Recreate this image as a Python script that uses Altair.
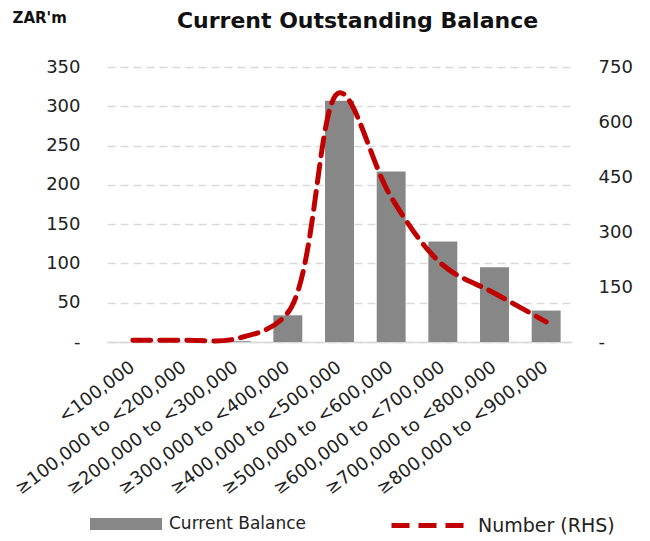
import altair as alt
import pandas as pd

categories = ["<100,000", "≥100,000 to <200,000", "≥200,000 to <300,000",
              "≥300,000 to <400,000", "≥400,000 to <500,000", "≥500,000 to <600,000",
              "≥600,000 to <700,000", "≥700,000 to <800,000", "≥800,000 to <900,000"]
balance = [0, 0, 1, 34, 307, 217, 128, 95, 40]
number = [5, 5, 9, 80, 680, 395, 210, 133, 55]
left_ticks = [0, 50, 100, 150, 200, 250, 300, 350]
right_ticks = [0, 150, 300, 450, 600, 750]

df = pd.DataFrame({
    "cat": categories,
    "balance": balance,
    "number": number,
    "s1": ["Current Balance"] * len(categories),
    "s2": ["Number (RHS)"] * len(categories),
})

FONT = "DejaVu Sans"

x = alt.X("cat:N", sort=categories, title=None,
          scale=alt.Scale(paddingInner=0.44, paddingOuter=0.22),
          axis=alt.Axis(labelAngle=-37, labelAlign="right", labelBaseline="middle",
                        labelPadding=23, labelFontSize=18, labelColor="#222222",
                        labelFont=FONT, ticks=False, domainColor="#d9d9d9",
                        domainWidth=1.5, grid=False, labelLimit=400))

bars = alt.Chart(df).mark_bar(color="#878787").encode(
    x=x,
    y=alt.Y("balance:Q", scale=alt.Scale(domain=[0, 350]),
            axis=alt.Axis(values=left_ticks, title="ZAR'm", titleAngle=0,
                          titleX=-95, titleY=-42, titleAlign="left",
                          titleFontSize=15, titleFontWeight="bold", titleFont=FONT,
                          titleColor="#111111",
                          labelExpr="datum.value == 0 ? '-' : datum.label",
                          labelFontSize=18, labelFont=FONT, labelColor="#222222",
                          labelPadding=27, ticks=False, domain=False,
                          grid=True, gridDash=[8, 5], gridColor="#d9d9d9", gridWidth=1.5)),
    color=alt.Color("s1:N", scale=alt.Scale(range=["#878787"]),
                    legend=alt.Legend(title=None, orient="none", legendX=-18, legendY=420,
                                      symbolType="M-1,-0.17H1V0.17H-1Z", symbolSize=5184,
                                      symbolOpacity=1, labelFontSize=17, labelFont=FONT,
                                      labelColor="#222222", labelOffset=6)),
)

line = alt.Chart(df).mark_line(color="#c00000", strokeWidth=5, strokeDash=[12, 12],
                               strokeCap="round", interpolate="catmull-rom").encode(
    x=x,
    y=alt.Y("number:Q", scale=alt.Scale(domain=[0, 750]),
            axis=alt.Axis(values=right_ticks, title=None, orient="right",
                          labelExpr="datum.value == 0 ? '-' : datum.label",
                          labelFontSize=18, labelFont=FONT, labelColor="#222222",
                          labelPadding=26, ticks=False, domain=False, grid=False)),
    strokeDash=alt.StrokeDash("s2:N", scale=alt.Scale(range=[[18, 9]]),
                              legend=alt.Legend(title=None, orient="none", legendX=282, legendY=420,
                                                symbolType="stroke", symbolSize=5184,
                                                symbolStrokeColor="#c00000", symbolStrokeWidth=5,
                                                symbolDash=[18, 9],
                                                labelFontSize=19, labelFont=FONT,
                                                labelColor="#222222", labelOffset=12)),
)

chart = alt.layer(bars, line).resolve_scale(y="independent", color="independent",
                                             strokeDash="independent").properties(
    width=465, height=275,
    autosize=alt.AutoSizeParams(type="none"),
    padding={"left": 99, "top": 59, "right": 70, "bottom": 196},
    background="white",
    title=alt.TitleParams("Current Outstanding Balance", fontSize=22, fontWeight="bold",
                          font=FONT, color="#111111", anchor="middle", dx=18, offset=-23),
).configure_view(stroke=None)

chart.save("out.html", embed_options={"renderer": "svg", "actions": False})
